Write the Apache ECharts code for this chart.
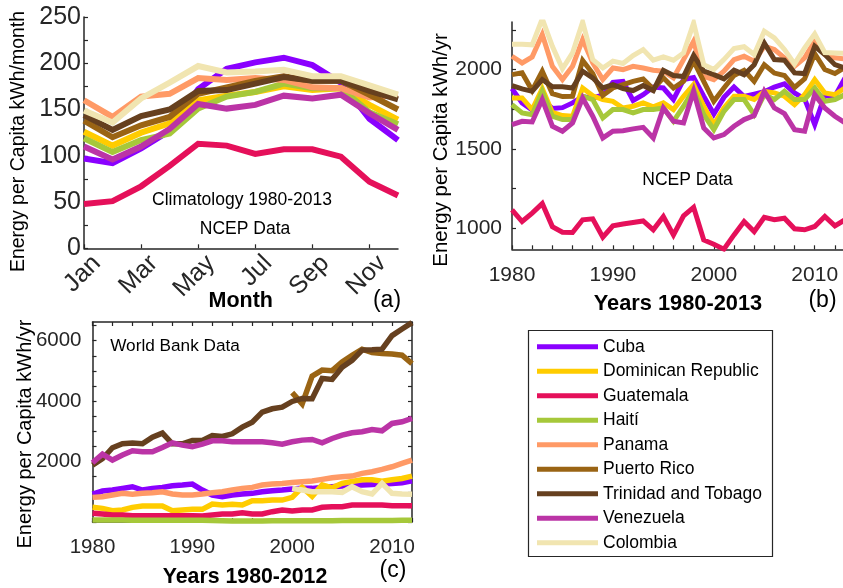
<!DOCTYPE html>
<html>
<head>
<meta charset="utf-8">
<title>Energy per Capita</title>
<script src="https://cdn.jsdelivr.net/npm/echarts@6.0.0/dist/echarts.min.js"></script>
<style>
  html, body { margin: 0; padding: 0; background: #fff; }
  #chart { width: 843px; height: 588px; }
</style>
</head>
<body>
<div id="chart"></div>
<script>
// Countries, in legend / drawing order
const countries = ['Cuba', 'Dominican Republic', 'Guatemala', 'Haití', 'Panama',
  'Puerto Rico', 'Trinidad and Tobago', 'Venezuela', 'Colombia'];

// (a) Climatology 1980-2013, NCEP, kWh/month
const months = ['Jan', 'Feb', 'Mar', 'Apr', 'May', 'Jun', 'Jul', 'Aug', 'Sep', 'Oct', 'Nov', 'Dec'];
const cubaMonthly      = [97, 92, 108, 127, 172, 194, 201, 206, 198, 179, 140, 117];
const dominicanMonthly = [126, 111, 125, 135, 160, 165, 169, 175, 171, 173, 155, 139];
const guatemalaMonthly = [48, 51, 67, 89, 113, 111, 102, 107, 107, 99, 72, 57];
const haitiMonthly     = [119, 104, 117, 124, 151, 164, 169, 178, 173, 173, 147, 134];
const panamaMonthly    = [160, 142, 164, 167, 184, 182, 184, 182, 174, 173, 163, 166];
const puertoMonthly    = [138, 120, 133, 142, 167, 174, 181, 186, 181, 181, 166, 150];
const trinidadMonthly  = [144, 128, 143, 150, 170, 171, 178, 185, 181, 181, 170, 161];
const venezuelaMonthly = [110, 96, 110, 129, 156, 151, 155, 165, 162, 166, 146, 128];
const colombiaMonthly  = [149, 136, 162, 179, 197, 190, 191, 193, 186, 186, 176, 166];

// (b) NCEP annual totals 1980-2013, kWh/yr
const ncepYears = [1980, 1981, 1982, 1983, 1984, 1985, 1986, 1987, 1988, 1989, 1990, 1991,
  1992, 1993, 1994, 1995, 1996, 1997, 1998, 1999, 2000, 2001, 2002, 2003, 2004, 2005, 2006,
  2007, 2008, 2009, 2010, 2011, 2012, 2013];
const cubaNcep      = [1880, 1790, 1745, 1810, 1755, 1760, 1790, 1830, 1820, 1840, 1920, 1926, 1805, 1842, 1890, 1884, 1811, 1937, 1950, 1832, 1720, 1825, 1890, 1830, 1845, 1860, 1890, 1910, 1853, 1815, 1653, 1837, 1832, 1947];
const dominicanNcep = [1821, 1821, 1748, 1880, 1730, 1710, 1706, 1884, 1835, 1811, 1800, 1758, 1769, 1790, 1765, 1790, 1748, 1832, 1905, 1769, 1653, 1758, 1832, 1832, 1811, 1863, 1853, 1832, 1779, 1842, 1937, 1853, 1842, 1884];
const guatemalaNcep = [1115, 1042, 1095, 1155, 1010, 975, 973, 1053, 1059, 943, 1015, 1027, 1036, 1046, 990, 1074, 958, 1078, 1132, 926, 899, 868, 958, 1042, 979, 1069, 1053, 1063, 996, 990, 1011, 1074, 1015, 1053];
const haitiNcep     = [1779, 1727, 1716, 1863, 1706, 1685, 1685, 1832, 1811, 1695, 1748, 1748, 1727, 1748, 1748, 1758, 1674, 1769, 1874, 1716, 1621, 1737, 1811, 1811, 1716, 1842, 1811, 1863, 1811, 1811, 1884, 1800, 1811, 1842];
const panamaNcep    = [2084, 2042, 2080, 2221, 2021, 1937, 2021, 2189, 2042, 1937, 2010, 2000, 2021, 2010, 1996, 1990, 1948, 2063, 2179, 1958, 1937, 1990, 2063, 2084, 2053, 2147, 2126, 2074, 2021, 2074, 2180, 2095, 2074, 2067];
const puertoNcep    = [1968, 1980, 1868, 1990, 1848, 1830, 1832, 2058, 1975, 1837, 1884, 1905, 1926, 1941, 1878, 1948, 1884, 1926, 2053, 1926, 1800, 1884, 1963, 1995, 1926, 2031, 1978, 1963, 1887, 1942, 2100, 2000, 1975, 2015];
const trinidadNcep  = [1899, 1878, 1863, 1937, 1891, 1891, 1884, 1990, 1948, 1884, 1905, 1880, 1868, 1900, 1868, 1995, 1963, 1956, 2090, 1990, 1968, 1942, 1996, 1968, 2031, 2168, 2063, 2059, 1979, 1975, 2147, 2095, 2031, 2010];
const venezuelaNcep = [1653, 1674, 1670, 1811, 1643, 1611, 1664, 1821, 1706, 1569, 1611, 1615, 1626, 1636, 1569, 1758, 1674, 1664, 1863, 1632, 1569, 1590, 1643, 1685, 1710, 1863, 1758, 1722, 1621, 1611, 1842, 1758, 1706, 1664];
const colombiaNcep  = [2160, 2160, 2156, 2320, 2147, 2005, 2105, 2300, 2063, 2010, 2053, 2038, 2088, 2126, 2059, 2080, 2059, 2105, 2294, 2031, 2000, 2063, 2133, 2144, 2095, 2242, 2200, 2127, 2036, 2136, 2225, 2107, 2105, 2103];

// (c) World Bank electric power consumption 1980-2012, kWh/yr per capita
const wbYears = [1980, 1981, 1982, 1983, 1984, 1985, 1986, 1987, 1988, 1989, 1990, 1991,
  1992, 1993, 1994, 1995, 1996, 1997, 1998, 1999, 2000, 2001, 2002, 2003, 2004, 2005, 2006,
  2007, 2008, 2009, 2010, 2011, 2012];
const cubaWb      = [926, 1025, 1058, 1113, 1168, 1058, 1113, 1146, 1201, 1223, 1256, 1058, 893, 838, 893, 926, 948, 1003, 1036, 1058, 1091, 1113, 1113, 1146, 1168, 1190, 1223, 1223, 1245, 1256, 1278, 1300, 1366];
const dominicanWb = [485, 452, 375, 397, 485, 529, 529, 529, 375, 397, 419, 419, 595, 562, 584, 562, 705, 705, 727, 727, 815, 1150, 850, 1230, 1130, 1280, 1340, 1400, 1400, 1350, 1400, 1440, 1520];
const guatemalaWb = [287, 264, 231, 231, 209, 209, 209, 209, 209, 209, 209, 200, 231, 264, 264, 308, 264, 264, 342, 397, 364, 397, 397, 485, 507, 507, 562, 562, 562, 562, 540, 540, 540];
const haitiWb     = [70, 68, 66, 64, 62, 62, 62, 60, 60, 60, 58, 55, 50, 40, 32, 30, 32, 35, 38, 40, 42, 42, 45, 45, 45, 47, 48, 48, 50, 50, 52, 54, 56];
const panamaWb    = [815, 838, 893, 948, 915, 948, 970, 1003, 926, 893, 893, 926, 970, 1003, 1058, 1113, 1146, 1223, 1256, 1278, 1311, 1333, 1355, 1410, 1465, 1499, 1521, 1609, 1664, 1741, 1829, 1940, 2050];
const puertoWb    = [null, null, null, null, null, null, null, null, null, null, null, null, null, null, null, null, null, null, null, null, 4280, 3910, 4830, 5030, 5010, 5300, 5520, 5720, 5610, 5580, 5560, 5520, 5240];
const trinidadWb  = [1884, 2094, 2457, 2589, 2611, 2589, 2810, 2942, 2589, 2589, 2700, 2700, 2865, 2832, 2920, 3140, 3306, 3637, 3747, 3802, 3990, 4090, 4080, 4750, 4720, 5120, 5350, 5690, 5700, 5720, 6170, 6390, 6600];
const venezuelaWb = [1961, 2248, 2050, 2215, 2358, 2325, 2325, 2468, 2622, 2545, 2490, 2578, 2688, 2688, 2655, 2655, 2655, 2655, 2622, 2578, 2655, 2710, 2732, 2622, 2765, 2875, 2953, 2986, 3063, 3019, 3262, 3317, 3427];
const colombiaWb  = [null, null, null, null, null, null, null, null, null, null, null, null, null, null, null, null, null, null, null, null, 1113, 1058, 1003, 1003, 1003, 981, 1168, 1003, 926, 1278, 948, 926, 915];

// Tick label values
const monthlyLabels = [0, 50, 100, 150, 200, 250];
const monthlyTicks = [0, 25, 50, 75, 100, 125, 150, 175, 200, 225, 250];
const ncepLabels = [1000, 1500, 2000];
const ncepTicks = [1000, 1250, 1500, 1750, 2000, 2250];
const wbLabels = [2000, 4000, 6000];
const wbTicks = [0, 500, 1000, 1500, 2000, 2500, 3000, 3500, 4000, 4500, 5000, 5500, 6000, 6500];
const yearLabels = [1980, 1990, 2000, 2010];
const yearTicks = [1980, 1982, 1984, 1986, 1988, 1990, 1992, 1994, 1996, 1998, 2000, 2002,
  2004, 2006, 2008, 2010, 2012];

const monthlySets = [cubaMonthly, dominicanMonthly, guatemalaMonthly, haitiMonthly, panamaMonthly,
  puertoMonthly, trinidadMonthly, venezuelaMonthly, colombiaMonthly];
const ncepSets = [cubaNcep, dominicanNcep, guatemalaNcep, haitiNcep, panamaNcep,
  puertoNcep, trinidadNcep, venezuelaNcep, colombiaNcep];
const wbSets = [cubaWb, dominicanWb, guatemalaWb, haitiWb, panamaWb,
  puertoWb, trinidadWb, venezuelaWb, colombiaWb];

const palette = ['#8a00ff', '#ffcc00', '#e5105a', '#a6c83a', '#ff9a66',
  '#9a6414', '#66401f', '#bb34a6', '#f1e5b1'];

const FONT = '"Liberation Sans", Arial, Helvetica, sans-serif';
const AXIS = '#262626';

const chart = echarts.init(document.getElementById('chart'), null, { renderer: 'canvas' });

function axisBase(fontSize, margin) {
  return {
    axisLine: { show: true, onZero: false, lineStyle: { color: AXIS, width: 1.5 } },
    axisTick: { show: true, inside: true, length: 4, lineStyle: { color: AXIS, width: 1.2 } },
    axisLabel: { color: AXIS, fontSize: fontSize, fontFamily: FONT, margin: margin,
      formatter: v => String(v) },
    splitLine: { show: false }
  };
}

function yearAxis(gridIndex, max, fontSize, margin) {
  const a = axisBase(fontSize, margin);
  a.gridIndex = gridIndex;
  a.type = 'value';
  a.min = 1980;
  a.max = max;
  a.axisTick.customValues = yearTicks;
  a.axisLabel.customValues = yearLabels;
  return a;
}

function valueAxis(gridIndex, min, max, labels, ticks, fontSize, margin) {
  const a = axisBase(fontSize, margin);
  a.gridIndex = gridIndex;
  a.type = 'value';
  a.min = min;
  a.max = max;
  a.axisTick.customValues = ticks;
  a.axisLabel.customValues = labels;
  return a;
}

// (a) month axis
const monthAxis = axisBase(25, 24);
monthAxis.gridIndex = 0;
monthAxis.type = 'category';
monthAxis.data = months;
monthAxis.boundaryGap = false;
monthAxis.axisTick.interval = 1;
monthAxis.axisLabel.interval = 1;
monthAxis.axisLabel.rotate = 45;
monthAxis.axisLabel.padding = [0, -18, 0, 0];

// (c) top / right frame axes
const wbTop = yearAxis(2, 2012, 20, 14);
wbTop.position = 'top';
wbTop.axisLabel.show = false;
const wbRight = valueAxis(2, 0, 6620, wbLabels, wbTicks, 20, 11);
wbRight.position = 'right';
wbRight.axisLabel.show = false;

const series = [];
countries.forEach((name, i) => {
  const common = {
    name: name,
    type: 'line',
    color: palette[i],
    symbol: 'none',
    showSymbol: false,
    connectNulls: false,
    animation: false,
    emphasis: { disabled: true },
    silent: true
  };
  series.push(Object.assign({}, common, {
    xAxisIndex: 0, yAxisIndex: 0,
    data: monthlySets[i],
    lineStyle: { color: palette[i], width: 6, join: 'miter', cap: 'butt' }
  }));
  series.push(Object.assign({}, common, {
    xAxisIndex: 1, yAxisIndex: 1,
    data: ncepYears.map((y, k) => [y, ncepSets[i][k]]),
    lineStyle: { color: palette[i], width: 5, join: 'miter', cap: 'butt' }
  }));
  series.push(Object.assign({}, common, {
    xAxisIndex: 2, yAxisIndex: 2,
    data: wbYears.map((y, k) => [y, wbSets[i][k]]),
    lineStyle: { color: palette[i], width: 5.5, join: 'miter', cap: 'butt' }
  }));
});

function label(text, x, y, size, opts) {
  return Object.assign({
    type: 'text', x: x, y: y, silent: true, z: 20,
    style: { text: text, fontSize: size, fontFamily: FONT, fill: '#000',
      textAlign: 'center', textVerticalAlign: 'middle' }
  }, opts || {});
}
function boldLabel(text, x, y, size) {
  const t = label(text, x, y, size);
  t.style.fontWeight = 'bold';
  return t;
}
function vertLabel(text, x, y, size) {
  return label(text, x, y, size, { rotation: Math.PI / 2 });
}

const option = {
  animation: false,
  backgroundColor: '#fff',
  textStyle: { fontFamily: FONT },
  grid: [
    { left: 84, top: 17, right: 445, bottom: 339.7, outerBoundsMode: 'none', containLabel: false },
    { left: 512, top: 22, right: -2, bottom: 338.7, outerBoundsMode: 'none', containLabel: false },
    { left: 92.5, top: 322, right: 431, bottom: 66, outerBoundsMode: 'none', containLabel: false }
  ],
  xAxis: [monthAxis, yearAxis(1, 2013, 21, 15), yearAxis(2, 2012, 20.5, 14.5), wbTop],
  yAxis: [
    valueAxis(0, 0, 250, monthlyLabels, monthlyTicks, 25, 3),
    valueAxis(1, 867, 2300, ncepLabels, ncepTicks, 21, 10),
    valueAxis(2, 0, 6620, wbLabels, wbTicks, 20.5, 11),
    wbRight
  ],
  legend: {
    data: countries,
    orient: 'vertical',
    left: 537, top: 336.7,
    icon: 'rect',
    itemWidth: 61, itemHeight: 5,
    itemGap: 4.5,
    padding: 0,
    selectedMode: false,
    z: 10,
    textStyle: { fontSize: 17.5, color: '#000', fontFamily: FONT, lineHeight: 20 }
  },
  graphic: { elements: [
    { type: 'rect', silent: true, z: 1,
      shape: { x: 528.5, y: 330.5, width: 244, height: 226 },
      style: { fill: 'transparent', stroke: AXIS, lineWidth: 1.2 } },
    label('Climatology 1980-2013', 242, 200, 17.5),
    label('NCEP Data', 245, 229, 17.5),
    label('NCEP Data', 687.5, 180, 17.5),
    label('World Bank Data', 175, 346, 17.2),
    vertLabel('Energy per Capita kWh/month', 19, 141.5, 19.5),
    vertLabel('Energy per Capita kWh/yr', 441.7, 150, 20.4),
    vertLabel('Energy per Capita kWh/yr', 25, 434, 20),
    boldLabel('Month', 240.7, 301, 21.5),
    boldLabel('Years 1980-2013', 678, 304, 21.8),
    boldLabel('Years 1980-2012', 245, 576.7, 21.3),
    label('(a)', 387, 301, 23),
    label('(b)', 822.5, 301, 23),
    label('(c)', 393, 571, 23)
  ] },
  series: series
};

chart.setOption(option);
</script>
</body>
</html>
